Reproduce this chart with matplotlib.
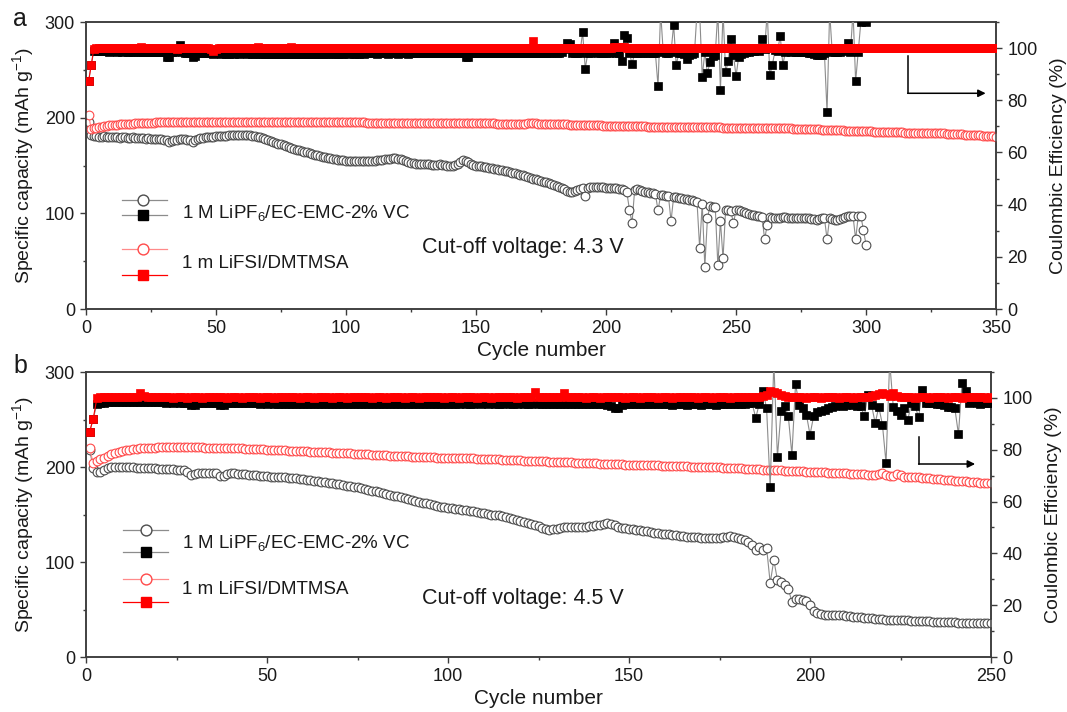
import matplotlib.pyplot as plt
import numpy as np
from matplotlib.ticker import MultipleLocator

plt.rcParams['font.family'] = ['Liberation Sans', 'DejaVu Sans']
plt.rcParams['mathtext.fontset'] = 'custom'
plt.rcParams['mathtext.rm'] = 'Liberation Sans'
plt.rcParams['mathtext.default'] = 'regular'

# ---------------- panel a : cut-off 4.3 V ----------------
cap_a_lipf6 = [
    195, 182, 181, 181, 180, 180, 181, 180, 180, 180,
    180, 180, 179, 180, 180, 179, 179, 180, 179, 179,
    179, 179, 178, 179, 178, 178, 178, 178, 178, 177,
    177, 175, 176, 177, 177, 178, 178, 178, 177, 177,
    175, 177, 178, 179, 179, 180, 180, 180, 180, 181,
    181, 181, 181, 181, 182, 182, 182, 182, 182, 182,
    182, 182, 182, 181, 181, 180, 180, 179, 178, 177,
    176, 175, 174, 173, 172, 171, 170, 169, 168, 167,
    166, 166, 165, 164, 164, 163, 162, 161, 161, 160,
    159, 159, 158, 158, 157, 157, 156, 156, 156, 155,
    155, 155, 155, 155, 155, 155, 155, 155, 155, 155,
    155, 156, 156, 156, 157, 157, 157, 158, 158, 157,
    157, 156, 155, 154, 153, 153, 152, 152, 152, 152,
    152, 152, 151, 151, 151, 152, 151, 151, 150, 150,
    150, 151, 152, 154, 156, 155, 154, 152, 151, 150,
    149, 149, 148, 148, 147, 147, 146, 146, 145, 145,
    144, 144, 143, 142, 142, 141, 140, 140, 139, 138,
    137, 136, 136, 135, 134, 133, 133, 132, 131, 130,
    129, 128, 127, 125, 123, 122, 122, 123, 124, 125,
    127, 118, 127, 128, 128, 128, 128, 128, 128, 127,
    127, 127, 126, 126, 125, 125, 124, 122, 104, 90,
    124, 125, 124, 123, 122, 122, 121, 121, 120, 103,
    119, 119, 118, 118, 92, 117, 117, 116, 116, 115,
    115, 114, 114, 113, 112, 64, 110, 44, 95, 108,
    107, 107, 46, 92, 53, 104, 103, 102, 90, 103,
    103, 102, 101, 100, 99, 98, 98, 97, 97, 96,
    73, 88, 96, 95, 95, 95, 95, 96, 96, 95,
    95, 95, 95, 95, 95, 95, 95, 95, 94, 94,
    93, 94, 95, 95, 73, 95, 94, 93, 93, 94,
    95, 96, 97, 97, 97, 73, 97, 97, 83, 67,
]

cap_a_lifsi = [
    203, 188, 189, 189.5, 190, 190.5, 191, 191.5, 192, 192,
    192.5, 192.5, 193, 193, 193, 193.5, 193.5, 193.5, 194, 194,
    194, 194, 194.5, 194.5, 194.5, 194.5, 195, 195, 195, 195,
    195, 195, 195, 195, 195.5, 195.5, 195.5, 195.5, 195.5, 195.5,
    195.5, 196, 196, 196, 196, 196, 196, 196, 195, 196,
    196, 196, 196, 196, 196, 196, 196, 196, 196, 196,
    196, 196, 196, 196, 196, 196, 196, 196, 196, 196,
    196, 196, 196, 196, 195.5, 195.5, 195.5, 195.5, 195.5, 195.5,
    195.5, 195.5, 195.5, 195.5, 195.5, 195.5, 195.5, 195.5, 195.5, 195.5,
    195.5, 195.5, 195, 195, 195, 195, 195, 195, 195, 195,
    195, 195, 195, 195, 195, 195, 195, 194.5, 194.5, 194.5,
    194.5, 194.5, 194.5, 194.5, 194.5, 194.5, 194.5, 194.5, 194.5, 194.5,
    194.5, 194.5, 194.5, 194.5, 194.5, 194.5, 194.5, 194.5, 194.5, 194.5,
    194.5, 194.5, 194.5, 194.5, 194.5, 194, 194, 194, 194, 194,
    194, 194, 194, 194, 194, 194, 194, 194, 194, 194,
    194, 194, 194, 194, 194, 194, 194, 193.5, 193.5, 193.5,
    193.5, 193.5, 193.5, 193.5, 193.5, 193.5, 193.5, 193.5, 193.5, 194.5,
    194.5, 194, 194, 193.5, 193.5, 193.5, 193.5, 193.5, 193, 193,
    193, 193, 193, 193, 193, 192.5, 192.5, 192.5, 192.5, 192.5,
    192.5, 192.5, 192, 192, 192, 192, 192, 192, 191.5, 191.5,
    191.5, 191, 191, 191, 191, 191, 191, 191, 191, 191,
    191, 191, 191, 191, 191, 190.5, 190.5, 190.5, 190.5, 190.5,
    190.5, 190.5, 190.5, 190.5, 190.5, 190, 190, 190, 190, 190,
    190, 190, 190, 190, 190, 190, 190, 190, 190, 190,
    190, 190, 190, 190, 189.5, 189.5, 189.5, 189.5, 189.5, 189.5,
    189.5, 189.5, 189.5, 189.5, 189.5, 189.5, 189.5, 189.5, 189.5, 189.5,
    189.5, 189.5, 189.5, 189, 189, 189, 189, 189, 189, 189,
    189, 188.5, 188.5, 188.5, 188.5, 188.5, 188, 188, 188, 188,
    188, 188, 187.5, 187.5, 187.5, 187.5, 187, 187, 187, 187,
    187, 186.5, 186.5, 186.5, 186.5, 186, 186, 186, 186, 186,
    186, 186, 185.5, 185.5, 185.5, 185.5, 185.5, 185.5, 185.5, 185.5,
    185, 185, 185, 185, 184.5, 184.5, 184.5, 184.5, 184.5, 184.5,
    184, 184, 184, 184, 183.5, 183.5, 183.5, 183.5, 183.5, 183.5,
    183, 183, 183, 182.5, 182.5, 182.5, 182.5, 182, 182, 182,
    182, 181.5, 181.5, 181.5, 181, 181, 181, 180.5, 180.5, 180,
]

ce_a_lipf6 = [
    87.5, 93.5, 98.8, 99.0, 98.9, 98.8, 98.9, 98.8, 98.7, 98.8,
    98.8, 98.7, 98.8, 98.7, 98.8, 98.7, 98.6, 98.7, 98.8, 98.7,
    98.7, 98.6, 98.7, 98.6, 98.7, 98.6, 98.6, 98.5, 98.6, 98.5,
    96.7, 96.8, 98.4, 98.5, 99.5, 101.2, 98.4, 98.3, 98.3, 98.2,
    96.7, 96.9, 98.2, 98.1, 98.1, 98.0, 98.1, 98.0, 97.9, 98.0,
    98.0, 97.9, 98.0, 97.9, 97.9, 98.0, 97.9, 98.0, 97.9, 98.0,
    98.0, 97.9, 98.0, 97.9, 97.9, 98.0, 97.9, 97.8, 97.9, 97.8,
    97.9, 97.8, 97.9, 97.8, 97.9, 97.8, 97.9, 97.8, 97.8, 97.8,
    97.8, 97.9, 97.8, 97.9, 97.8, 97.8, 97.8, 97.8, 97.9, 97.8,
    97.9, 97.8, 97.9, 98.0, 97.9, 97.8, 97.9, 97.8, 97.9, 98.0,
    97.9, 98.0, 97.9, 97.8, 97.9, 98.0, 97.9, 98.0, 98.0, 98.0,
    98.0, 97.9, 98.0, 98.0, 98.0, 97.9, 98.0, 98.0, 98.0, 97.9,
    98.0, 98.0, 98.0, 97.9, 98.0, 98.0, 98.1, 98.0, 98.0, 98.0,
    98.0, 98.0, 98.1, 98.0, 98.0, 98.0, 98.0, 98.0, 98.1, 98.0,
    98.1, 98.0, 98.0, 98.0, 98.0, 96.5, 96.6, 98.0, 98.1, 98.0,
    98.1, 98.0, 98.1, 98.2, 98.1, 98.0, 98.1, 98.2, 98.1, 98.0,
    98.1, 98.2, 98.1, 98.2, 98.3, 98.2, 98.1, 98.2, 98.3, 98.2,
    98.3, 98.2, 98.3, 98.2, 98.1, 98.2, 98.3, 98.2, 98.3, 98.4,
    98.3, 98.2, 98.4, 99.5, 101.9, 101.5, 98.2, 98.0, 98.1, 98.2,
    106.2, 92.2, 98.1, 98.3, 98.5, 98.4, 98.2, 98.0, 98.1, 98.3,
    98.2, 98.4, 101.9, 98.0, 98.3, 95.0, 105.0, 103.8, 98.2, 94.0,
    98.0, 98.2, 98.1, 98.3, 98.4, 98.2, 98.1, 98.3, 98.0, 85.4,
    114.0, 98.5, 98.3, 98.2, 98.4, 109.0, 93.5, 98.2, 98.0, 97.6,
    96.0, 97.5, 97.8, 98.0, 114.0, 114.0, 89.0, 98.5, 90.3, 94.7,
    97.0, 97.5, 114.0, 83.9, 114.0, 90.9, 95.0, 103.7, 97.5, 89.2,
    96.6, 97.8, 98.3, 98.6, 98.7, 98.8, 99.0, 99.2, 99.0, 103.4,
    99.5, 114.0, 89.6, 93.7, 99.2, 99.0, 104.7, 93.7, 98.5, 98.8,
    98.7, 98.8, 98.7, 98.6, 98.5, 98.6, 98.4, 98.2, 98.0, 97.6,
    97.4, 97.3, 97.4, 98.0, 75.6, 114.0, 98.4, 98.6, 98.5, 98.7,
    98.8, 99.5, 101.9, 98.5, 114.0, 87.3, 98.6, 110.0, 110.5, 110.0,
]

ce_a_lifsi = [
    87.3, 93.4, 99.8, 100.0, 100.1, 100.0, 99.9, 100.1, 100.0, 100.0,
    100.1, 100.0, 99.9, 100.0, 100.1, 100.0, 100.0, 99.9, 100.0, 100.1,
    100.3, 100.0, 99.9, 100.0, 100.0, 100.1, 100.0, 99.9, 100.0, 100.0,
    100.1, 100.0, 99.9, 100.0, 99.8, 100.0, 100.1, 100.0, 99.9, 100.0,
    100.0, 99.9, 100.0, 100.1, 100.0, 99.9, 100.0, 99.5, 99.0, 99.8,
    100.0, 100.1, 100.0, 99.9, 100.0, 100.0, 100.1, 100.0, 99.9, 100.0,
    100.0, 100.1, 100.0, 99.9, 100.0, 100.3, 100.0, 99.9, 100.0, 100.1,
    100.0, 99.9, 100.0, 100.0, 100.1, 100.0, 99.9, 100.0, 100.4, 100.0,
    99.9, 100.0, 100.1, 100.0, 100.0, 99.9, 100.0, 100.1, 100.0, 99.9,
    100.0, 100.0, 100.1, 100.0, 99.9, 100.0, 100.0, 100.1, 100.0, 99.9,
    100.0, 100.1, 100.0, 99.9, 100.0, 100.0, 100.1, 100.0, 99.9, 100.0,
    99.9, 100.0, 100.1, 100.0, 100.0, 99.9, 100.0, 100.1, 100.0, 100.0,
    100.1, 100.0, 100.0, 99.9, 100.1, 100.0, 99.9, 100.0, 100.2, 100.0,
    100.0, 100.1, 100.0, 99.9, 100.0, 100.0, 100.1, 100.0, 99.9, 100.0,
    99.9, 100.0, 100.1, 100.0, 100.0, 99.9, 100.0, 100.1, 100.0, 100.0,
    100.1, 100.0, 100.0, 99.9, 100.1, 100.0, 99.9, 100.0, 100.2, 100.0,
    100.0, 100.1, 100.0, 99.9, 100.0, 100.0, 100.1, 100.0, 99.9, 100.0,
    100.2, 102.7, 100.1, 100.0, 99.9, 100.0, 100.1, 100.0, 99.9, 100.0,
    100.0, 100.1, 100.0, 99.9, 100.0, 100.0, 100.1, 100.0, 99.9, 100.0,
    99.9, 100.0, 100.1, 100.0, 100.0, 99.9, 100.0, 100.1, 100.0, 100.0,
    100.1, 100.2, 100.3, 100.4, 100.5, 100.4, 100.3, 100.2, 100.1, 100.0,
    100.0, 100.1, 100.0, 99.9, 100.0, 100.0, 100.1, 100.0, 99.9, 100.0,
    99.9, 100.0, 100.1, 100.0, 100.0, 99.9, 100.0, 100.1, 100.0, 100.0,
    100.1, 100.0, 100.0, 99.9, 100.1, 100.0, 99.9, 100.0, 100.2, 100.0,
    100.0, 100.1, 100.0, 99.9, 100.0, 100.0, 100.1, 100.0, 99.9, 100.0,
    99.9, 100.0, 100.1, 100.0, 100.0, 99.9, 100.0, 100.1, 100.0, 100.0,
    100.1, 100.0, 100.0, 99.9, 100.1, 100.0, 99.9, 100.0, 100.2, 100.0,
    100.0, 100.1, 100.0, 99.9, 100.0, 100.0, 100.1, 100.0, 99.9, 100.0,
    99.9, 100.0, 100.1, 100.0, 100.0, 99.9, 100.0, 100.1, 100.0, 100.0,
    100.1, 100.0, 100.0, 99.9, 100.1, 100.0, 99.9, 100.0, 100.2, 100.0,
    100.0, 100.1, 100.0, 99.9, 100.0, 100.0, 100.1, 100.0, 99.9, 100.0,
    99.9, 100.0, 100.1, 100.0, 100.0, 99.9, 100.0, 100.1, 100.0, 100.0,
    100.1, 100.0, 100.0, 99.9, 100.1, 100.0, 99.9, 100.0, 100.2, 100.0,
    100.0, 100.1, 100.0, 99.9, 100.0, 100.0, 100.1, 100.0, 99.9, 100.0,
    99.9, 100.0, 100.1, 100.0, 100.0, 99.9, 100.0, 100.1, 100.0, 100.0,
]

# ---------------- panel b : cut-off 4.5 V ----------------
cap_b_lipf6 = [
    218, 199, 195, 195, 197, 199, 200, 200, 200, 200,
    200, 199.5, 199.5, 199, 199, 199, 199, 198.5, 198.5, 198,
    198, 198, 197.5, 197.5, 197, 197, 196.5, 195, 192, 192.5,
    193.5, 194, 194, 194, 194, 193.5, 191, 191, 193, 193.5,
    193.5, 193, 193, 192.5, 192, 192, 191.5, 191, 191, 190.5,
    190, 190, 189.5, 189, 189, 188.5, 188, 188, 187.5, 187,
    186.5, 186, 185.5, 185, 184.5, 184, 183.5, 183, 182.5, 182,
    181, 180.5, 180, 179, 178.5, 178, 177, 176, 175, 174.5,
    173.5, 173, 172, 171, 170, 169, 168, 167, 166, 165,
    164, 163.5, 162.5, 162, 161, 160, 159.5, 158, 157.5, 157,
    156.5, 156, 155.5, 155, 154.5, 154, 153.5, 152.5, 152, 151.5,
    151, 150, 149.5, 149, 148, 147, 146, 145, 144, 143,
    142, 141, 140, 139, 137.5, 136, 135, 134, 134.5, 135,
    136, 136.5, 137, 137, 137, 136.5, 136.5, 137, 137.5, 138,
    138.5, 139.5, 140.5, 141, 140, 138.5, 137, 136, 135.5, 135,
    134.5, 134, 133.5, 133, 132.5, 132, 131, 130.5, 130, 129.5,
    129, 128.5, 128, 127.5, 127, 126.5, 126, 126, 126, 125.5,
    125.5, 125.5, 125, 125, 125.5, 126, 126.5, 127, 126.5, 125.5,
    124.5, 123, 121, 118, 113, 116, 113, 115, 78, 102,
    81, 79, 76, 72, 58, 61, 61, 60, 59, 55,
    48, 46, 45, 44.5, 44.5, 44.5, 44, 44, 44, 43.5,
    43, 42.5, 42, 42, 41.5, 41, 41, 40.5, 40, 40,
    39.5, 39.5, 39, 39, 38.5, 38.5, 38.5, 38, 38, 38,
    37.5, 37.5, 37.5, 37, 37, 37, 36.5, 36.5, 36.5, 36.5,
    36, 36, 36, 36, 36, 35.5, 35.5, 35.5, 35.5, 35.5,
]

cap_b_lifsi = [
    220, 204, 206, 208, 210, 212, 213.5, 215, 216, 217,
    217.5, 218, 218.5, 219, 219.5, 220, 220, 220.5, 220.5, 221,
    221, 221, 221, 221, 221, 221, 221, 221, 221, 221,
    221, 221, 220.5, 220.5, 220.5, 220.5, 220, 220, 220, 220,
    219.5, 219.5, 219.5, 219, 219, 219, 218.5, 218.5, 218.5, 218,
    218, 217.5, 218, 217.5, 217.5, 217, 217, 217, 216.5, 216.5,
    216.5, 216, 216, 216, 215.5, 215.5, 215.5, 215, 215, 215,
    214.5, 214.5, 214.5, 214, 214, 214, 213.5, 213.5, 213, 213,
    212.5, 212.5, 212.5, 212, 212, 212, 211.5, 211.5, 211.5, 211,
    211, 211, 210.5, 210.5, 210.5, 210.5, 210, 210, 210, 210,
    209.5, 209.5, 209.5, 209, 209, 209, 209, 208.5, 208.5, 208.5,
    208, 208, 208, 208, 207.5, 207.5, 207.5, 207, 207, 207,
    206.5, 206.5, 206.5, 206.5, 206, 206, 206, 205.5, 205.5, 205.5,
    205, 205, 205, 205, 204.5, 204.5, 204.5, 204, 204, 204,
    204, 203.5, 203.5, 203.5, 203, 203, 203, 203, 202.5, 202.5,
    202.5, 202.5, 202.5, 202, 202, 202, 202, 202, 201.5, 201.5,
    201.5, 201.5, 201.5, 201, 201, 201, 200.5, 200.5, 200.5, 200,
    200, 200, 199.5, 199.5, 199.5, 199, 199, 199, 198.5, 198.5,
    198.5, 198, 198, 198, 197.5, 197.5, 197, 197, 197, 196.5,
    196.5, 196.5, 196, 196, 196, 195.5, 195.5, 195.5, 195, 195,
    195, 194.5, 194.5, 194.5, 194, 194, 194, 193.5, 193.5, 193.5,
    193, 193, 192.5, 192.5, 192.5, 192, 192, 191.5, 193, 193.5,
    191.5, 190.5, 191, 193, 192, 190, 189.5, 189.5, 189, 189,
    188.5, 188.5, 188, 187.5, 187.5, 187, 186.5, 186.5, 186, 185.5,
    185.5, 185, 185, 184.5, 184, 184, 183.5, 183.5, 183, 183,
]

ce_b_lipf6 = [
    87.0, 92.0, 97.6, 98.0, 98.2, 98.4, 98.3, 98.4, 98.3, 98.4,
    98.3, 98.4, 98.5, 98.4, 98.3, 98.4, 98.3, 98.4, 98.5, 98.4,
    98.3, 98.2, 98.3, 98.2, 98.3, 98.2, 98.1, 98.2, 97.2, 97.3,
    98.1, 98.2, 98.1, 98.2, 98.1, 98.0, 97.2, 97.3, 98.1, 98.0,
    98.1, 98.0, 97.9, 98.0, 97.9, 98.0, 97.9, 97.8, 97.9, 97.8,
    97.9, 97.8, 97.7, 97.8, 97.7, 97.8, 97.7, 97.6, 97.7, 97.6,
    97.7, 97.6, 97.7, 97.6, 97.7, 97.6, 97.5, 97.6, 97.7, 97.6,
    97.7, 97.6, 97.5, 97.6, 97.5, 97.6, 97.7, 97.6, 97.5, 97.6,
    97.6, 97.7, 97.6, 97.5, 97.6, 97.7, 97.6, 97.5, 97.6, 97.7,
    97.6, 97.7, 97.8, 97.7, 97.6, 97.7, 97.8, 97.7, 97.8, 97.7,
    97.8, 97.7, 97.8, 97.9, 97.8, 97.7, 97.8, 97.9, 97.8, 97.9,
    97.8, 97.9, 97.8, 97.7, 97.8, 97.9, 97.8, 97.7, 97.8, 97.9,
    97.8, 97.7, 97.8, 97.9, 97.8, 97.7, 97.6, 97.5, 97.6, 97.7,
    97.8, 97.7, 97.8, 97.7, 97.6, 97.7, 97.8, 97.7, 97.8, 97.7,
    97.6, 97.5, 97.6, 97.4, 96.8, 96.0, 96.2, 97.3, 97.5, 97.6,
    97.7, 97.6, 97.7, 97.6, 97.5, 97.6, 97.7, 97.6, 97.5, 97.6,
    97.5, 97.4, 97.5, 97.6, 97.5, 97.4, 97.5, 97.6, 97.5, 97.4,
    97.5, 97.6, 97.5, 97.4, 97.5, 97.6, 97.7, 97.6, 97.5, 97.6,
    97.8, 97.5, 97.9, 98.0, 92.3, 97.8, 102.8, 96.0, 65.6, 114.0,
    77.2, 95.0, 97.0, 93.0, 78.0, 105.4, 97.4, 96.0, 93.5, 85.8,
    93.0, 94.5, 95.0, 95.5, 96.0, 96.5, 97.0, 97.2, 97.0, 97.3,
    97.5, 97.4, 97.0, 96.8, 93.0, 101.3, 97.2, 90.3, 96.5, 89.7,
    74.9, 114.0, 96.5, 95.0, 93.5, 96.0, 91.4, 98.0, 97.0, 92.5,
    103.2, 98.0, 98.2, 98.0, 97.8, 97.6, 97.4, 96.5, 96.5, 96.0,
    86.0, 105.8, 102.8, 98.0, 98.3, 98.0, 97.8, 98.0, 98.1, 98.0,
]

ce_b_lifsi = [
    86.9, 92.0, 99.9, 100.3, 100.2, 100.4, 100.3, 100.5, 100.3, 100.2,
    100.4, 100.3, 100.2, 100.5, 101.8, 100.6, 100.3, 100.2, 100.3, 100.4,
    100.2, 100.3, 100.2, 100.1, 100.2, 100.3, 100.2, 100.1, 100.2, 100.3,
    100.2, 100.1, 100.2, 100.3, 100.2, 100.2, 100.3, 100.2, 100.1, 100.2,
    100.3, 100.2, 100.1, 100.2, 100.3, 100.2, 100.2, 100.1, 100.2, 100.3,
    100.2, 100.1, 100.2, 100.3, 100.2, 100.2, 100.3, 100.2, 100.1, 100.2,
    100.3, 100.2, 100.1, 100.2, 100.3, 100.2, 100.2, 100.1, 100.2, 100.3,
    100.2, 100.1, 100.2, 100.3, 100.2, 100.2, 100.3, 100.2, 100.1, 100.2,
    100.3, 100.2, 100.1, 100.2, 100.3, 100.2, 100.2, 100.1, 100.2, 100.3,
    100.2, 100.1, 100.2, 100.3, 100.2, 100.2, 100.3, 100.2, 100.1, 100.2,
    100.3, 100.2, 100.1, 100.2, 100.3, 100.2, 100.2, 100.1, 100.2, 100.3,
    100.2, 100.1, 100.2, 100.3, 100.2, 100.2, 100.3, 100.2, 100.1, 100.2,
    100.2, 100.3, 100.4, 102.3, 100.5, 100.3, 100.2, 100.3, 100.2, 100.3,
    100.3, 102.0, 100.4, 100.3, 100.2, 100.3, 100.2, 100.1, 100.2, 100.3,
    100.2, 100.1, 100.2, 100.3, 100.2, 100.2, 100.3, 100.2, 100.1, 100.2,
    100.3, 100.2, 100.1, 100.2, 100.3, 100.2, 100.2, 100.1, 100.2, 100.3,
    100.2, 100.1, 100.2, 100.3, 100.2, 100.2, 100.3, 100.2, 100.1, 100.2,
    100.3, 100.2, 100.1, 100.2, 100.3, 100.2, 100.2, 100.1, 100.2, 100.3,
    100.2, 100.3, 100.2, 100.4, 100.3, 100.5, 100.6, 101.0, 102.5, 102.2,
    102.0, 101.2, 100.6, 100.4, 100.3, 100.2, 100.3, 100.2, 100.1, 100.2,
    100.3, 100.2, 100.1, 100.2, 100.3, 100.2, 100.2, 100.1, 100.2, 100.3,
    100.2, 100.1, 100.2, 100.3, 100.2, 100.4, 100.6, 101.0, 101.5, 102.0,
    101.5, 100.8, 101.8, 100.6, 100.3, 100.2, 100.3, 100.2, 100.1, 100.2,
    100.3, 100.2, 100.1, 100.2, 100.3, 100.2, 100.2, 100.1, 100.2, 100.3,
    100.2, 100.1, 100.2, 100.3, 100.2, 100.2, 100.3, 100.2, 100.1, 100.2,
]

labels = ['1 M LiPF$_6$/EC-EMC-2% VC', '1 m LiFSI/DMTMSA']

GRAY_EDGE = '#4d4d4d'
GRAY_LINE = '#8c8c8c'
RED_EDGE = '#ff4a4a'
RED_LINE = '#ff8a8a'
SPINE = '#3c3c3c'
TXT = '#1a1a1a'

cap_style_k = dict(color=GRAY_LINE, lw=0.8, marker='o', ms=6.3, mfc='white', mec=GRAY_EDGE, mew=0.8)
cap_style_r = dict(color=RED_LINE, lw=0.8, marker='o', ms=6.3, mfc='white', mec=RED_EDGE, mew=0.8)
ce_style_k = dict(color=GRAY_LINE, lw=0.8, marker='s', ms=6, mfc='black', mec='black', mew=0.5)
ce_style_r = dict(color='#ff0000', lw=0.8, marker='s', ms=6, mfc='#ff0000', mec='#ff0000', mew=0.5)

fig = plt.figure(figsize=(10.67, 7.12), dpi=100)
ax_a = fig.add_axes([0.0806, 0.566, 0.8529, 0.403])
ax_b = fig.add_axes([0.0806, 0.0772, 0.8482, 0.4003])


def panel(ax, xmax, cap_k, cap_r, ce_k, ce_r, leg, text_pos, cutoff, arrow):
    ax2 = ax.twinx()
    ax.plot(np.arange(1, len(cap_k) + 1), cap_k, zorder=3, **cap_style_k)
    ax.plot(np.arange(1, len(cap_r) + 1), cap_r, zorder=4, **cap_style_r)
    ax2.plot(np.arange(1, len(ce_k) + 1), ce_k, zorder=3, **ce_style_k)
    ax2.plot(np.arange(1, len(ce_r) + 1), ce_r, zorder=4, **ce_style_r)

    ax.set_xlim(0, xmax)
    ax.set_ylim(0, 300)
    ax2.set_ylim(0, 110)
    ax.xaxis.set_major_locator(MultipleLocator(50))
    ax.xaxis.set_minor_locator(MultipleLocator(25))
    ax.yaxis.set_major_locator(MultipleLocator(100))
    ax.yaxis.set_minor_locator(MultipleLocator(50))
    ax2.yaxis.set_major_locator(MultipleLocator(20))
    ax2.yaxis.set_minor_locator(MultipleLocator(10))
    for a in (ax, ax2):
        for s in a.spines.values():
            s.set_color(SPINE)
            s.set_linewidth(1.1)
        a.tick_params(which='both', direction='out', width=1, colors=SPINE,
                      labelcolor=TXT, labelsize=13)
        a.tick_params(which='major', length=4.5, pad=3.5)
        a.tick_params(which='minor', length=2.5)
    ax.tick_params(top=False, right=False, which='both')

    ax.set_xlabel('Cycle number', fontsize=15, labelpad=3, color=TXT)
    ax.set_ylabel('Specific capacity (mAh g$^{-1}$)', fontsize=14, labelpad=6, color=TXT)
    ax2.set_ylabel('Coulombic Efficiency (%)', fontsize=14, labelpad=9, color=TXT)

    # legend drawn by hand: two rows per electrolyte
    x0, x1, xm, rows = leg
    for y, st in zip(rows, (cap_style_k, ce_style_k, cap_style_r, ce_style_r)):
        ax.plot([x0, x1], [y, y], transform=ax.transAxes, color=st['color'],
                lw=0.9, clip_on=False, zorder=5)
        ax.plot([xm], [y], transform=ax.transAxes, ls='none', marker=st['marker'],
                ms=st['ms'] + 1.5, mfc=st['mfc'], mec=st['mec'], mew=1.0,
                clip_on=False, zorder=6)
    tx, ty1, ty2 = text_pos
    ax.text(tx, ty1, labels[0], transform=ax.transAxes, fontsize=13.5,
            va='center', ha='left', color=TXT)
    ax.text(tx, ty2, labels[1], transform=ax.transAxes, fontsize=13.5,
            va='center', ha='left', color=TXT)
    cx, cy, ctext = cutoff
    ax.text(cx, cy, ctext, transform=ax.transAxes, fontsize=15.5,
            va='center', ha='center', color=TXT)

    # bent arrow pointing to the right axis
    ax_x, y_top, y_bot, x_end = arrow
    ax2.plot([ax_x, ax_x], [y_top, y_bot], color='black', lw=1.1, zorder=6)
    ax2.annotate('', xy=(x_end, y_bot), xytext=(ax_x, y_bot),
                 arrowprops=dict(arrowstyle='-|>', color='black', lw=1.1,
                                 mutation_scale=11, shrinkA=0, shrinkB=0),
                 zorder=6)
    return ax2


panel(ax_a, 350, cap_a_lipf6, cap_a_lifsi, ce_a_lipf6, ce_a_lifsi,
      (0.040, 0.089, 0.063, (0.380, 0.328, 0.209, 0.118)),
      (0.105, 0.334, 0.160),
      (0.480, 0.213, 'Cut-off voltage: 4.3 V'),
      (316, 97, 82.7, 346))
panel(ax_b, 250, cap_b_lipf6, cap_b_lifsi, ce_b_lipf6, ce_b_lifsi,
      (0.041, 0.091, 0.066, (0.446, 0.368, 0.274, 0.193)),
      (0.106, 0.400, 0.238),
      (0.483, 0.207, 'Cut-off voltage: 4.5 V'),
      (230, 85, 74.5, 245.6))

fig.text(0.019, 0.973, 'a', fontsize=18, ha='center', va='center', color=TXT)
fig.text(0.019, 0.486, 'b', fontsize=18, ha='center', va='center', color=TXT)

fig.savefig('out.png', dpi=100)
